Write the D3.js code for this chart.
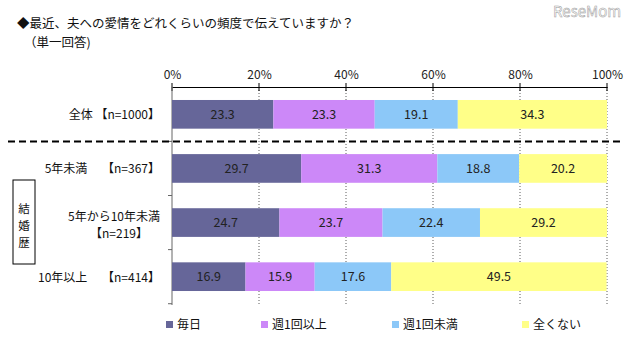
<!DOCTYPE html>
<html><head><meta charset="utf-8">
<script src="https://cdn.jsdelivr.net/npm/d3@7"></script>
<style>body{margin:0;background:#fff}svg{display:block}text{font-family:"Noto Sans CJK JP","Noto Sans",sans-serif}</style>
</head><body>
<script>
const categories = ["全体", "5年未満", "5年から10年未満", "10年以上"];
const sampleSizes = ["【n=1000】", "【n=367】", "【n=219】", "【n=414】"];
const seriesNames = ["毎日", "週1回以上", "週1回未満", "全くない"];
const daily = [23.3, 29.7, 24.7, 16.9];
const weekly = [23.3, 31.3, 23.7, 15.9];
const lessWeekly = [19.1, 18.8, 22.4, 17.6];
const never = [34.3, 20.2, 29.2, 49.5];
const tickValues = [0, 20, 40, 60, 80, 100];
const colors = ["#666699", "#CC88F8", "#8CC8F8", "#FFFF88"];

const W = 640, H = 361;
const svg = d3.select("body").append("svg").attr("width", W).attr("height", H);
const x = d3.scaleLinear().domain([0, 100]).range([172, 607]);
const y = d3.scaleBand().domain(categories).range([87, 304]).paddingInner(0.47).paddingOuter(0.24);

// title
svg.append("text").attr("x", 17).attr("y", 28).attr("font-size", 12.5).attr("fill", "#111").text("◆最近、夫への愛情をどれくらいの頻度で伝えていますか？");
svg.append("text").attr("x", 24).attr("y", 46.5).attr("font-size", 12.5).attr("fill", "#111").text("（単一回答)");
// watermark
svg.append("text").attr("x", 553).attr("y", 17).attr("font-size", 15).attr("fill", "#fff").attr("stroke", "#999").attr("stroke-width", 0.5).attr("font-family", "DejaVu Sans").text("ReseMom");

// gridlines
svg.append("g").selectAll("line").data(tickValues.slice(1)).join("line")
  .attr("x1", d => x(d)).attr("x2", d => x(d)).attr("y1", 87).attr("y2", 305)
  .attr("stroke", "#333").attr("stroke-width", 0.8).attr("stroke-dasharray", "1,2");

// top axis
const ax = svg.append("g").attr("transform", "translate(0,87)")
  .call(d3.axisTop(x).tickValues(tickValues).tickFormat(d => d + "%").tickSize(0).tickPadding(8));
ax.select(".domain").attr("stroke", "#000").attr("stroke-width", 1);
ax.selectAll("text").attr("font-size", 12).attr("fill", "#222").attr("font-family", "\"Noto Sans CJK JP\",sans-serif");
svg.append("g").selectAll("line").data(tickValues).join("line")
  .attr("x1", d => x(d)).attr("x2", d => x(d)).attr("y1", 83).attr("y2", 91).attr("stroke", "#000");

// left axis
svg.append("line").attr("x1", 172).attr("x2", 172).attr("y1", 87).attr("y2", 305).attr("stroke", "#666").attr("stroke-width", 1);
const bounds = categories.map((c, i) => y(c) + y.bandwidth() + y.step() * y.paddingInner() / 2);
svg.append("g").selectAll("line").data(bounds).join("line")
  .attr("x1", 168).attr("x2", 172).attr("y1", d => d).attr("y2", d => d).attr("stroke", "#666");

// stacked bars
const rows = categories.map((c, i) => ({cat: c, vals: [daily[i], weekly[i], lessWeekly[i], never[i]]}));
rows.forEach(r => {
  let acc = 0;
  const g = svg.append("g");
  r.vals.forEach((v, j) => {
    const x0 = x(acc), x1 = x(acc + v);
    g.append("rect").attr("x", x0).attr("y", y(r.cat)).attr("width", x1 - x0).attr("height", y.bandwidth()).attr("fill", colors[j]);
    g.append("text").attr("x", (x0 + x1) / 2).attr("y", y(r.cat) + y.bandwidth() / 2 + 4.5)
      .attr("text-anchor", "middle").attr("font-size", 12.5).attr("fill", "#222").text(v.toFixed(1));
    acc += v;
  });
});

// dashed separator
const sepY = (y(categories[0]) + y.bandwidth() + y(categories[1])) / 2;
svg.append("line").attr("x1", 8).attr("x2", 621).attr("y1", sepY).attr("y2", sepY)
  .attr("stroke", "#000").attr("stroke-width", 2).attr("stroke-dasharray", "7,4");

// category labels
categories.forEach((c, i) => {
  const cy = y(c) + y.bandwidth() / 2 + 5;
  if (i === 2) {
    svg.append("text").attr("x", 160).attr("y", cy - 7).attr("text-anchor", "end").attr("font-size", 12).attr("fill", "#111").text(c);
    svg.append("text").attr("x", 90).attr("y", cy + 10).attr("font-size", 12).attr("fill", "#111").text(sampleSizes[i]);
  } else {
    const sep = i === 0 ? " " : "　 ";
    svg.append("text").attr("x", 160).attr("y", cy).attr("text-anchor", "end").attr("font-size", 12).attr("fill", "#111").text(c + sep + sampleSizes[i]);
  }
});

// group box
svg.append("rect").attr("x", 13).attr("y", 180).attr("width", 22).attr("height", 84).attr("fill", "none").attr("stroke", "#000").attr("stroke-width", 1);
["結", "婚", "歴"].forEach((ch, i) => {
  svg.append("text").attr("x", 24).attr("y", 213 + i * 17).attr("text-anchor", "middle").attr("font-size", 11.5).attr("fill", "#111").text(ch);
});

// legend
const legX = [166, 261, 392, 522];
seriesNames.forEach((n, i) => {
  svg.append("rect").attr("x", legX[i]).attr("y", 321).attr("width", 7).attr("height", 7).attr("fill", colors[i]);
  svg.append("text").attr("x", legX[i] + 11).attr("y", 329).attr("font-size", 12).attr("fill", "#111").text(n);
});
</script>
</body></html>
